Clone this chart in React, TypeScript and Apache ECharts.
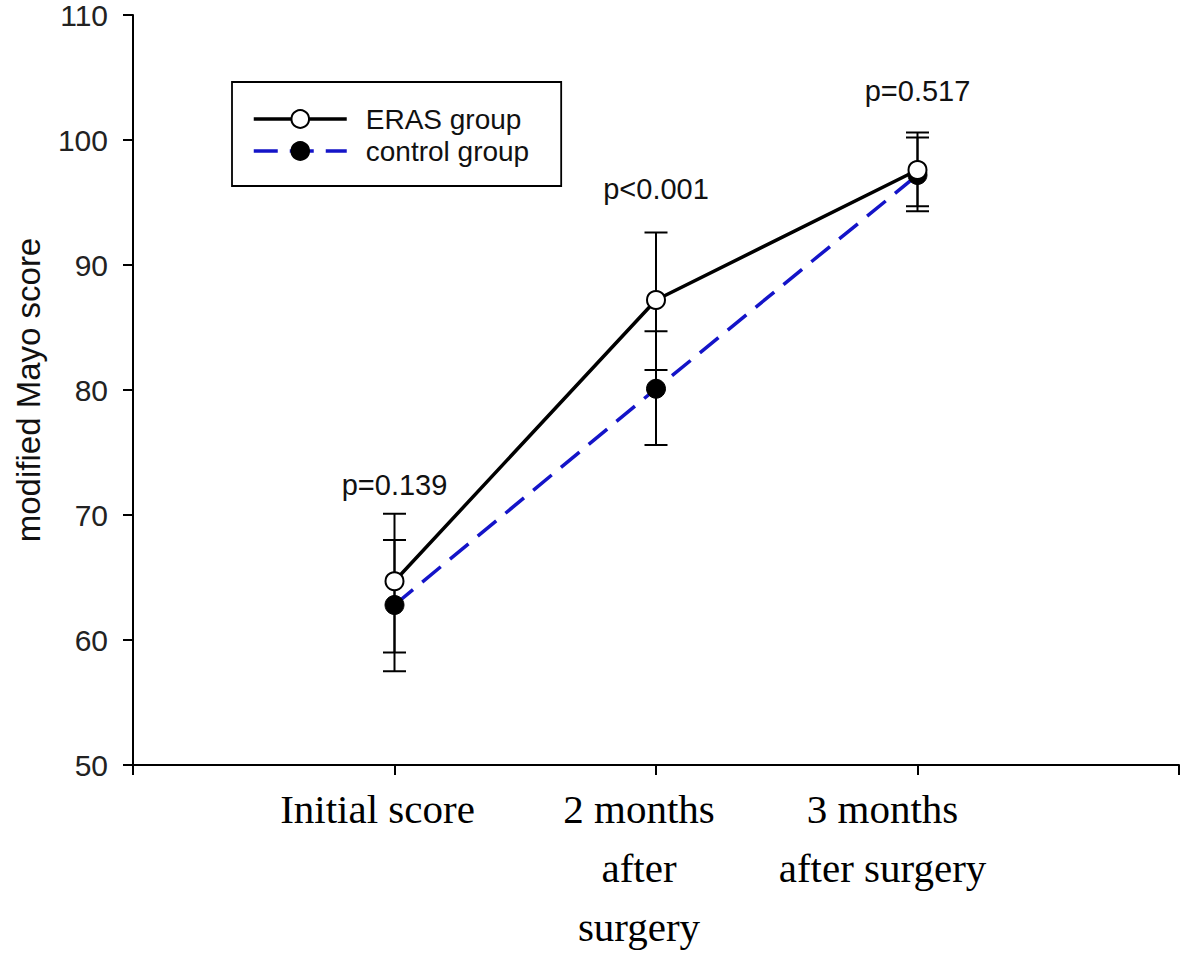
import React, { useEffect, useRef } from "react";
import * as echarts from "echarts";

const categories = ["Initial score", "2 months\nafter\nsurgery", "3 months\nafter surgery"];
const xPositions = [1, 2, 3];
const erasMean = [64.7, 87.2, 97.6];
const erasUpper = [70.1, 92.6, 100.6];
const erasLower = [59.0, 81.6, 94.7];
const controlMean = [62.8, 80.1, 97.2];
const controlUpper = [68.0, 84.7, 100.2];
const controlLower = [57.5, 75.6, 94.3];
const pLabels = ["p=0.139", "p<0.001", "p=0.517"];
const pLabelY = [72.4, 96.05, 103.9];
const yTicks = { min: 50, max: 110, interval: 10 };

const SANS = "'Liberation Sans', Arial, sans-serif";
const SERIF = "'Liberation Serif', 'Times New Roman', serif";

function errorBarRender(params: any, api: any) {
  const x = api.value(0);
  const lo = api.value(1);
  const hi = api.value(2);
  const pHi = api.coord([x, hi]);
  const pLo = api.coord([x, lo]);
  const half = 11.5;
  const style = { stroke: "#000", lineWidth: 2 };
  return {
    type: "group",
    children: [
      { type: "line", shape: { x1: pHi[0], y1: pHi[1], x2: pLo[0], y2: pLo[1] }, style },
      { type: "line", shape: { x1: pHi[0] - half, y1: pHi[1], x2: pHi[0] + half, y2: pHi[1] }, style },
      { type: "line", shape: { x1: pLo[0] - half, y1: pLo[1], x2: pLo[0] + half, y2: pLo[1] }, style },
    ],
  };
}

export default function App() {
  const ref = useRef<HTMLDivElement>(null);
  useEffect(() => {
    document.body.style.margin = "0";
    if (!ref.current) return;
    const chart = echarts.init(ref.current, null, { renderer: "svg" });
    // label style keys per category (visual left shift of each label block)
    const labelStyleKeys = ["s17", "s17", "s35"];
    const richBase = { fontFamily: SERIF, fontSize: 41, lineHeight: 59, color: "#000" };
    chart.setOption({
      animation: false,
      backgroundColor: "#fff",
      grid: { left: 133, right: 3, top: 13, bottom: 191 },
      legend: {
        data: ["ERAS group", "control group"],
        orient: "vertical",
        left: 232,
        top: 82,
        padding: [23, 32, 21, 20],
        itemGap: 4,
        itemWidth: 93,
        itemHeight: 22,
        lineStyle: { width: 3.5 },
        borderColor: "#000",
        borderWidth: 1.8,
        borderRadius: 0,
        textStyle: { fontFamily: SANS, fontSize: 28, color: "#111", padding: [0, 0, 0, 14], lineHeight: 28 },
      },
      xAxis: {
        type: "value",
        min: 0,
        max: 4,
        interval: 1,
        splitLine: { show: false },
        axisLine: { lineStyle: { color: "#000", width: 2 } },
        axisTick: { show: true, length: 10, lineStyle: { color: "#000", width: 2 } },
        axisLabel: {
          margin: 14,
          ...richBase,
          formatter: (v: number) => {
            const i = xPositions.indexOf(v);
            if (i < 0) return "";
            const key = labelStyleKeys[i];
            return categories[i]
              .split("\n")
              .map((line) => `{${key}|${line}}`)
              .join("\n");
          },
          rich: {
            s17: { ...richBase, padding: [0, 34, 0, 0] },
            s35: { ...richBase, padding: [0, 70, 0, 0] },
          },
        },
      },
      yAxis: {
        type: "value",
        min: yTicks.min,
        max: yTicks.max,
        interval: yTicks.interval,
        name: "modified Mayo score",
        nameLocation: "middle",
        nameGap: 88,
        nameTextStyle: { fontFamily: SANS, fontSize: 33, color: "#111" },
        splitLine: { show: false },
        axisLine: { show: true, lineStyle: { color: "#000", width: 2 } },
        axisTick: { show: true, length: 10, lineStyle: { color: "#000", width: 2 } },
        axisLabel: { margin: 25, fontFamily: SANS, fontSize: 30, color: "#222" },
      },
      series: [
        {
          name: "ERAS error",
          type: "custom",
          z: 1,
          renderItem: errorBarRender,
          data: xPositions.map((x, i) => [x, erasLower[i], erasUpper[i]]),
          encode: { x: 0, y: [1, 2] },
        },
        {
          name: "control error",
          type: "custom",
          z: 1,
          renderItem: errorBarRender,
          data: xPositions.map((x, i) => [x, controlLower[i], controlUpper[i]]),
          encode: { x: 0, y: [1, 2] },
        },
        {
          name: "control group",
          type: "line",
          z: 2,
          data: xPositions.map((x, i) => [x, controlMean[i]]),
          symbol: "circle",
          symbolSize: 19,
          lineStyle: { color: "#1414c8", width: 3.5, type: [24, 12] },
          itemStyle: { color: "#000", borderColor: "#000", borderWidth: 1 },
        },
        {
          name: "ERAS group",
          type: "line",
          z: 3,
          data: xPositions.map((x, i) => [x, erasMean[i]]),
          symbol: "circle",
          symbolSize: 18,
          lineStyle: { color: "#000", width: 3.5 },
          itemStyle: { color: "#fff", borderColor: "#000", borderWidth: 2 },
        },
        {
          name: "p values",
          type: "custom",
          z: 4,
          data: xPositions.map((x, i) => [x, pLabelY[i]]),
          encode: { x: 0, y: 1 },
          renderItem: (params: any, api: any) => {
            const p = api.coord([api.value(0), api.value(1)]);
            return {
              type: "text",
              x: p[0],
              y: p[1],
              style: {
                text: pLabels[params.dataIndex],
                fill: "#111",
                font: `29px ${SANS}`,
                align: "center",
                verticalAlign: "middle",
              },
            };
          },
        },
      ],
    });
    return () => chart.dispose();
  }, []);
  return <div ref={ref} style={{ width: 1182, height: 956 }} />;
}
